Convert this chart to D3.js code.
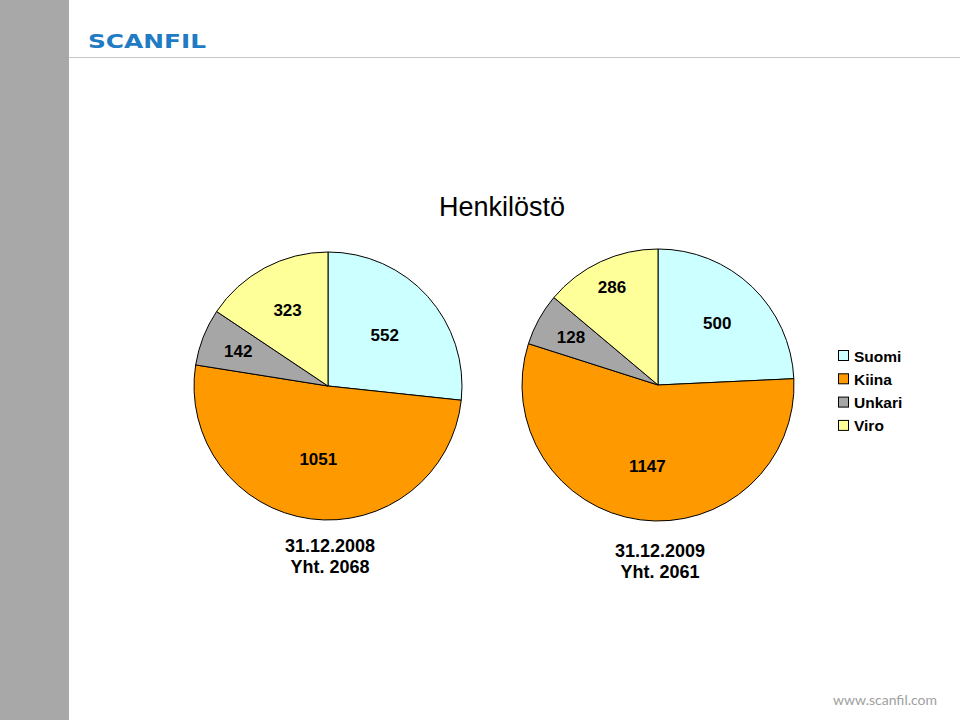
<!DOCTYPE html>
<html><head><meta charset="utf-8">
<script src="https://cdn.jsdelivr.net/npm/d3@7"></script>
<style>html,body{margin:0;padding:0;background:#fff;}svg{display:block;}</style>
</head><body>
<svg id="c" width="960" height="720"></svg>
<script>
const categories = ["Suomi", "Kiina", "Unkari", "Viro"];
const colors = ["#ccffff", "#ff9900", "#a6a6a6", "#ffff99"];
const values2008 = [552, 1051, 142, 323];
const values2009 = [500, 1147, 128, 286];
const dates = ["31.12.2008", "31.12.2009"];
const title = "Henkilöstö";

const svg = d3.select("#c");
const font = "Liberation Sans, Arial, sans-serif";

// page decoration
svg.append("rect").attr("x",0).attr("y",0).attr("width",69).attr("height",720).attr("fill","#a8a8a8");
svg.append("line").attr("x1",69).attr("x2",960).attr("y1",57.5).attr("y2",57.5).attr("stroke","#c8c8c8").attr("stroke-width",1);
svg.append("text").attr("x",88).attr("y",48).attr("font-family","DejaVu Sans, sans-serif").attr("font-weight","bold")
  .attr("font-size",19).attr("fill","#1f7bc4").attr("textLength",118).attr("lengthAdjust","spacingAndGlyphs").text("SCANFIL");
svg.append("text").attr("x",885).attr("y",705).attr("text-anchor","middle").attr("font-family","Lato, sans-serif")
  .attr("font-size",14).attr("fill","#a0a0a0").text("www.scanfil.com");

svg.append("text").attr("x",502).attr("y",216).attr("text-anchor","middle").attr("font-family",font)
  .attr("font-size",27).attr("fill","#000").text(title);

// label placement (fraction of radius, per slice) – layout only
const pies = [
  {values: values2008, cx: 328, cy: 386, r: 134, date: dates[0], ty: 552, lr: [0.57, 0.55, 0.72, 0.64]},
  {values: values2009, cx: 658, cy: 385, r: 136, date: dates[1], ty: 557, lr: [0.63, 0.60, 0.73, 0.80]}
];

const pie = d3.pie().sort(null).value(d => d);
pies.forEach(p => {
  const g = svg.append("g").attr("transform", `translate(${p.cx},${p.cy})`);
  const arcs = pie(p.values);
  const arc = d3.arc().innerRadius(0).outerRadius(p.r);
  g.selectAll("path").data(arcs).enter().append("path")
    .attr("d", arc).attr("fill", (d,i) => colors[i]).attr("stroke","#000").attr("stroke-width",1);
  g.selectAll("text.lbl").data(arcs).enter().append("text").attr("class","lbl")
    .attr("transform", (d,i) => {
      const la = d3.arc().innerRadius(p.r*p.lr[i]).outerRadius(p.r*p.lr[i]);
      return `translate(${la.centroid(d)})`;
    })
    .attr("text-anchor","middle").attr("dy","0.36em")
    .attr("font-family",font).attr("font-weight","bold").attr("font-size",17).attr("fill","#000")
    .text(d => d.data);
  const total = d3.sum(p.values);
  const t = svg.append("text").attr("x",p.cx+2).attr("y",p.ty).attr("text-anchor","middle")
    .attr("font-family",font).attr("font-weight","bold").attr("font-size",18).attr("fill","#000");
  t.append("tspan").attr("x",p.cx+2).text(p.date);
  t.append("tspan").attr("x",p.cx+2).attr("dy",21).text("Yht. " + total);
});

// legend
const lg = svg.append("g").attr("transform","translate(838,350)");
categories.forEach((c,i) => {
  const row = lg.append("g").attr("transform",`translate(0,${i*23.3})`);
  row.append("rect").attr("x",0.5).attr("y",0.5).attr("width",10).attr("height",10)
    .attr("fill",colors[i]).attr("stroke","#000").attr("stroke-width",1);
  row.append("text").attr("x",16).attr("y",11.5).attr("font-family",font).attr("font-weight","bold").attr("font-size",15.5).attr("fill","#000").text(c);
});
</script>
</body></html>
